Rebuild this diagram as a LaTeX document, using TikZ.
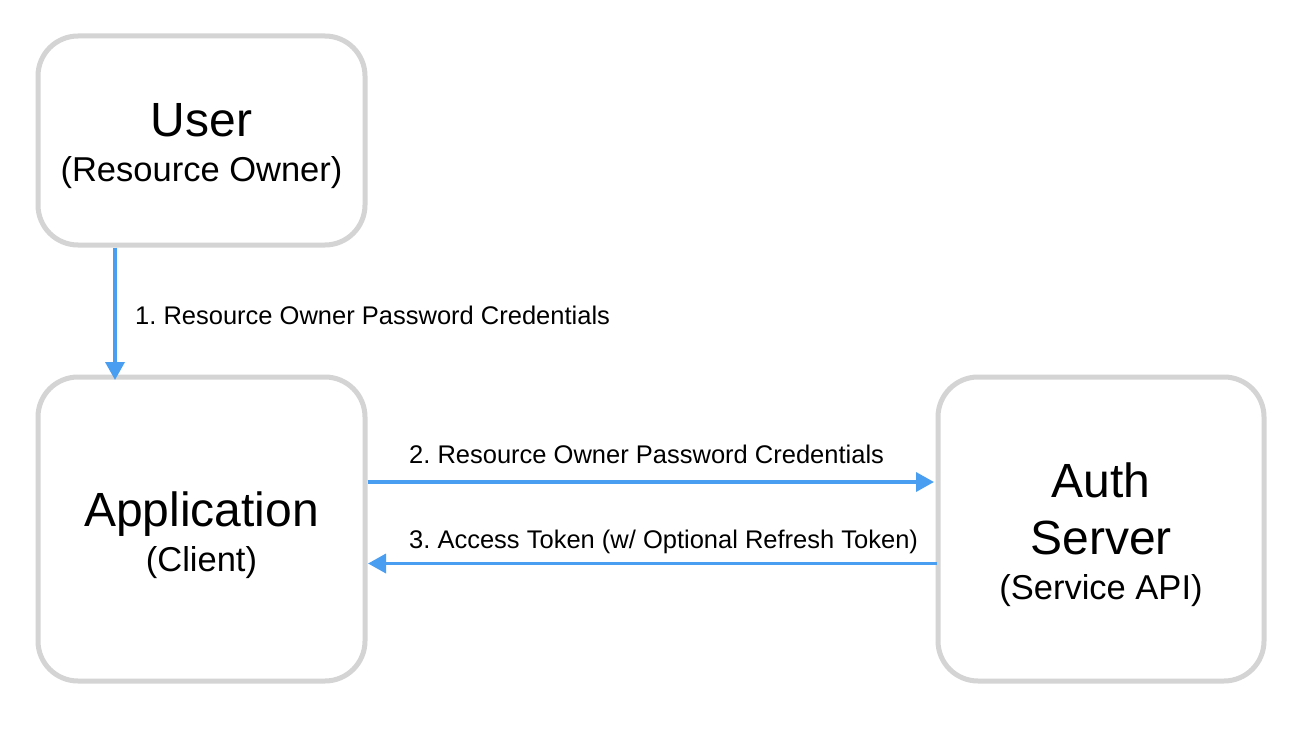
\documentclass[tikz,border=0pt]{standalone}
\usepackage{fontspec}
\setmainfont{Liberation Sans}
\usetikzlibrary{arrows.meta}
\definecolor{boxgray}{RGB}{212,212,212}
\definecolor{arrblue}{RGB}{74,158,242}
\frenchspacing
\begin{document}
\begin{tikzpicture}[x=1pt,y=-1pt,
  box/.style={draw=boxgray, line width=5pt, rounded corners=40pt, fill=white, inner sep=0pt},
  bigtxt/.style={font=\fontsize{48}{57}\selectfont, anchor=base, inner sep=0pt},
  smalltxt/.style={font=\fontsize{34.5}{41}\selectfont, anchor=base, inner sep=0pt},
  lbl/.style={font=\fontsize{25.5}{30}\selectfont, anchor=base west, inner sep=0pt},
  flow/.style={draw=arrblue, line width=3.5pt, -{Triangle[length=18pt,width=19pt]}}
]
\useasboundingbox (0,0) rectangle (1316,738);
\fill[white] (0,0) rectangle (1316,738);
% boxes
\node[box, minimum width=327pt, minimum height=209pt] (user) at (201.5,140.5) {};
\node[box, minimum width=327pt, minimum height=304pt] (app) at (201.5,529) {};
\node[box, minimum width=326pt, minimum height=304pt] (auth) at (1101,529) {};
% texts
\node[bigtxt] (userT) at (201.5,137) {User};
\node[smalltxt] (userS) at (201.5,182) {(Resource Owner)};
\node[bigtxt] (appT) at (201.5,526) {Application};
\node[smalltxt] (appS) at (201.5,571) {(Client)};
\node[bigtxt] (authT) at (1101,497) {Auth};
\node[bigtxt] (authT2) at (1101,554) {Server};
\node[smalltxt] (authS) at (1101,599) {(Service API)};
% arrows
\coordinate (a1s) at (115,247.5);
\coordinate (a1e) at (115,380);
\draw[flow] (a1s) -- (a1e);
\node[lbl] (l1) at (135,324) {1. Resource Owner Password Credentials};
\coordinate (a2s) at (367.5,482);
\coordinate (a2e) at (934,482);
\draw[flow] (a2s) -- (a2e);
\node[lbl] (l2) at (409,463) {2. Resource Owner Password Credentials};
\coordinate (a3s) at (936.5,563.5);
\coordinate (a3e) at (368,563.5);
\draw[flow] (a3s) -- (a3e);
\node[lbl] (l3) at (409,548) {3. Access Token (w/ Optional Refresh Token)};
\end{tikzpicture}
\end{document}
